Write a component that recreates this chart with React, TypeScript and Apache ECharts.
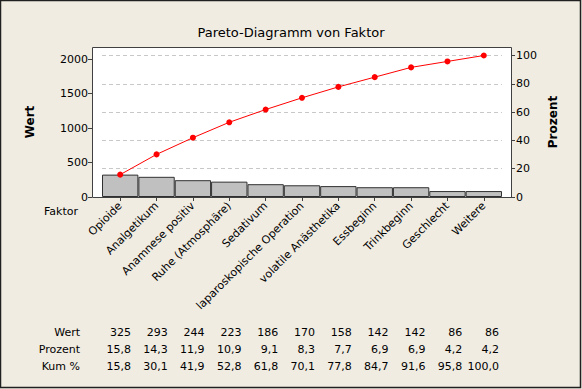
import React, { useEffect, useRef } from "react";
import * as echarts from "echarts";

const categories = [
  "Opioide",
  "Analgetikum",
  "Anamnese positiv",
  "Ruhe (Atmosphäre)",
  "Sedativum",
  "laparoskopische Operation",
  "volatile Anästhetika",
  "Essbeginn",
  "Trinkbeginn",
  "Geschlecht",
  "Weitere",
];
const values = [325, 293, 244, 223, 186, 170, 158, 142, 142, 86, 86];
const percent = [15.8, 14.3, 11.9, 10.9, 9.1, 8.3, 7.7, 6.9, 6.9, 4.2, 4.2];
const cumPercent = [15.8, 30.1, 41.9, 52.8, 61.8, 70.1, 77.8, 84.7, 91.6, 95.8, 100.0];
const rowLabels = ["Wert", "Prozent", "Kum %"];

const FONT = "DejaVu Sans";
const BG = "#F0ECE2";

export default function App() {
  const ref = useRef<HTMLDivElement>(null);
  useEffect(() => {
    if (!ref.current) return;
    const chart = echarts.init(ref.current, undefined, { renderer: "svg" });
    const total = values.reduce((a, b) => a + b, 0);
    const pctMax = 106;
    const fmt = (v: number) => v.toFixed(1).replace(".", ",");

    const rows = [values.map((v) => String(v)), percent.map(fmt), cumPercent.map(fmt)];
    const rowY = [332, 349, 366];
    const tableTexts: any[] = [];
    rows.forEach((row, r) => {
      tableTexts.push({
        type: "text",
        x: 80,
        y: rowY[r],
        style: { text: rowLabels[r], font: `11px "${FONT}"`, fill: "#000", align: "right", verticalAlign: "middle" },
      });
      row.forEach((t, i) => {
        tableTexts.push({
          type: "text",
          x: 131 + i * 36.8,
          y: rowY[r],
          style: { text: t, font: `11px "${FONT}"`, fill: "#000", align: "right", verticalAlign: "middle" },
        });
      });
    });

    chart.setOption({
      animation: false,
      backgroundColor: BG,
      title: {
        text: "Pareto-Diagramm von Faktor",
        left: "center",
        top: 21,
        textStyle: { fontFamily: FONT, fontSize: 13, fontWeight: "normal", color: "#000" },
      },
      grid: { left: 102, right: 80, top: 47, bottom: 192 },
      xAxis: {
        type: "category",
        data: categories,
        boundaryGap: true,
        axisLine: { show: false },
        axisTick: { show: true, alignWithLabel: true, length: 4, lineStyle: { color: "#404040" } },
        axisLabel: { rotate: 45, interval: 0, fontFamily: FONT, fontSize: 11, color: "#000", margin: 7 },
      },
      yAxis: [
        {
          type: "value",
          min: 0,
          max: (total * pctMax) / 100,
          interval: 500,
          offset: 10,
          axisLine: { show: false },
          axisTick: { show: true, length: 4, lineStyle: { color: "#404040" } },
          axisLabel: {
            fontFamily: FONT,
            fontSize: 11,
            color: "#000",
            margin: 4,
            showMaxLabel: false,
            formatter: (v: number) => String(v),
          },
          splitLine: { show: false },
        },
        {
          type: "value",
          min: 0,
          max: pctMax,
          interval: 20,
          offset: 9,
          position: "right",
          axisLine: { show: false },
          axisTick: { show: true, length: 4, lineStyle: { color: "#404040" } },
          axisLabel: {
            fontFamily: FONT,
            fontSize: 11,
            color: "#000",
            margin: 5,
            showMaxLabel: false,
            formatter: (v: number) => String(v),
          },
          splitLine: { show: true, lineStyle: { color: "#C8C8C8", type: [4, 3], width: 1 } },
        },
      ],
      series: [
        {
          type: "bar",
          data: values,
          barWidth: "100%",
          barCategoryGap: 0,
          itemStyle: { color: "#C0C0C0", borderColor: "#303030", borderWidth: 1 },
          z: 2,
        },
        {
          type: "line",
          yAxisIndex: 1,
          data: cumPercent,
          symbol: "circle",
          symbolSize: 6,
          lineStyle: { color: "#FF0000", width: 1 },
          itemStyle: { color: "#FF0000" },
          z: 3,
        },
      ],
      graphic: [
        {
          type: "rect",
          z: -100,
          silent: true,
          shape: { x: 92, y: 47, width: 419, height: 150 },
          style: { fill: "#FFFFFF", stroke: "none" },
        },
        {
          type: "rect",
          z: 100,
          silent: true,
          shape: { x: 92.5, y: 47.5, width: 419, height: 150 },
          style: { fill: "none", stroke: "#404040", lineWidth: 1 },
        },
        {
          type: "rect",
          z: 100,
          silent: true,
          shape: { x: 0.5, y: 0.5, width: 580, height: 387 },
          style: { fill: "none", stroke: "#202020", lineWidth: 1.5 },
        },
        {
          type: "text",
          x: 30,
          y: 122,
          rotation: Math.PI / 2,
          style: { text: "Wert", font: `bold 12px "${FONT}"`, fill: "#000", align: "center", verticalAlign: "middle" },
        },
        {
          type: "text",
          x: 553,
          y: 122,
          rotation: Math.PI / 2,
          style: { text: "Prozent", font: `bold 12px "${FONT}"`, fill: "#000", align: "center", verticalAlign: "middle" },
        },
        {
          type: "text",
          x: 78,
          y: 211,
          style: { text: "Faktor", font: `11px "${FONT}"`, fill: "#000", align: "right", verticalAlign: "middle" },
        },
        ...tableTexts,
      ],
    });
    return () => chart.dispose();
  }, []);
  return (
    <div
      ref={ref}
      style={{ position: "fixed", left: 0, top: 0, width: 582, height: 389 }}
    />
  );
}
